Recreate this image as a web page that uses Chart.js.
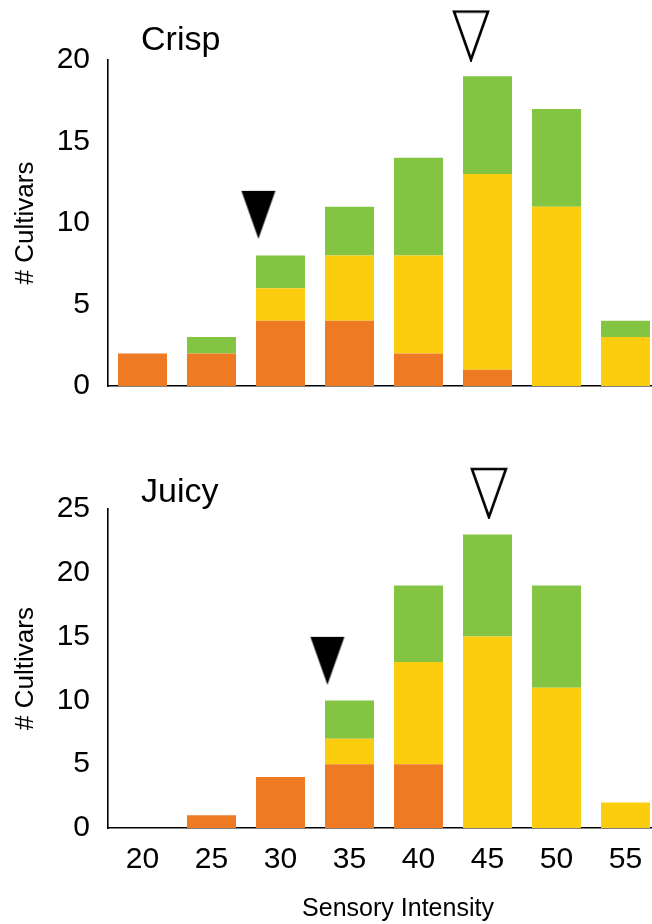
<!DOCTYPE html>
<html>
<head>
<meta charset="utf-8">
<script src="https://cdn.jsdelivr.net/npm/chart.js@4.4.1/dist/chart.umd.min.js"></script>
<style>
  html, body { margin: 0; padding: 0; background: #fff; overflow: hidden; width: 652px; height: 924px; }
  #wrap { position: relative; width: 670px; height: 924px; }
  #crisp { position: absolute; left: 0; top: 0; }
  #juicy { position: absolute; left: 0; top: 440px; }
</style>
</head>
<body>
<div id="wrap">
  <canvas id="crisp" width="670" height="440"></canvas>
  <canvas id="juicy" width="670" height="484"></canvas>
</div>
<script>
// Datos
const intensity = ['20', '25', '30', '35', '40', '45', '50', '55'];

const crispOrange = [2, 2, 4, 4, 2, 1, 0, 0];
const crispYellow = [0, 0, 2, 4, 6, 12, 11, 3];
const crispGreen  = [0, 1, 2, 3, 6, 6, 6, 1];

const juicyOrange = [0, 1, 4, 5, 5, 0, 0, 0];
const juicyYellow = [0, 0, 0, 2, 8, 15, 11, 2];
const juicyGreen  = [0, 0, 0, 3, 6, 8, 8, 0];

// triangulos (relleno, vacio)
const crispMarkX = [28.4, 43.8];
const crispMarkY = [10.5, 21.5];
const juicyMarkX = [33.4, 45.1];
const juicyMarkY = [13.1, 26.25];

const ORANGE = '#EE7B24';
const YELLOW = '#FCCC0E';
const GREEN = '#84C443';

Chart.defaults.font.family = '"Liberation Sans", Arial, sans-serif';
Chart.defaults.color = '#000';

// Imagen de triangulo para pointStyle
function makeTriangle(filled) {
  const c = document.createElement('canvas');
  c.width = 38; c.height = 52;
  const g = c.getContext('2d');
  g.beginPath();
  g.moveTo(2, 2);
  g.lineTo(36, 2);
  g.lineTo(19, 50);
  g.closePath();
  if (filled) {
    g.fillStyle = '#000';
    g.fill();
  } else {
    g.fillStyle = '#fff';
    g.fill();
    g.lineWidth = 2.6;
    g.strokeStyle = '#000';
    g.stroke();
  }
  return c;
}
const triFilled = makeTriangle(true);
const triOpen = makeTriangle(false);

// Textos sueltos (etiqueta del panel, titulo del eje x)
const panelText = {
  id: 'panelText',
  afterDraw(chart, args, opts) {
    const ctx = chart.ctx;
    ctx.save();
    ctx.fillStyle = '#000';
    (opts.items || []).forEach(it => {
      ctx.font = it.size + 'px "Liberation Sans", Arial, sans-serif';
      ctx.textAlign = it.align || 'left';
      ctx.textBaseline = 'alphabetic';
      ctx.fillText(it.text, it.x, it.y);
    });
    ctx.restore();
  }
};

function makeChart(id, orange, yellow, green, markX, markY, yMax, cfg) {
  const ctx = document.getElementById(id).getContext('2d');
  const barOpts = { type: 'bar', grouped: false, categoryPercentage: 1, barPercentage: 0.71, borderWidth: 0, order: 2 };
  return new Chart(ctx, {
    type: 'bar',
    data: {
      labels: intensity,
      datasets: [
        { ...barOpts, data: orange, backgroundColor: ORANGE },
        { ...barOpts, data: yellow, backgroundColor: YELLOW },
        { ...barOpts, data: green, backgroundColor: GREEN },
        {
          type: 'scatter',
          data: markX.map((x, i) => ({ x: x, y: markY[i] })),
          xAxisID: 'xm',
          yAxisID: 'ym',
          pointStyle: [triFilled, triOpen],
          pointRadius: 40,
          pointHoverRadius: 40,
          showLine: false,
          clip: false,
          order: 1
        }
      ]
    },
    options: {
      responsive: false,
      animation: false,
      layout: { autoPadding: false, padding: { top: cfg.padTop, right: 10, left: 0, bottom: 0 } },
      scales: {
        x: {
          stacked: true,
          grid: { display: false, drawTicks: false },
          border: { display: true, color: '#000', width: 1.6 },
          ticks: { display: cfg.showX, font: { size: 30 }, padding: 14, maxRotation: 0 },
          afterFit: s => { s.height = cfg.xHeight; }
        },
        y: {
          stacked: true,
          min: 0,
          max: yMax,
          grid: { display: false, drawTicks: false },
          border: { display: true, color: '#000', width: 1.6 },
          ticks: { stepSize: 5, font: { size: 30 }, padding: 18 },
          title: { display: true, text: '# Cultivars', font: { size: 26 }, padding: { top: 10, bottom: 0 } },
          afterFit: s => { s.width = 108; }
        },
        xm: { type: 'linear', display: false, offset: false, min: 17.5, max: 57.5 },
        ym: { type: 'linear', display: false, offset: false, min: 0, max: yMax }
      },
      plugins: {
        legend: { display: false },
        tooltip: { enabled: false },
        panelText: { items: cfg.texts }
      }
    },
    plugins: [panelText]
  });
}

const crispChart = makeChart('crisp', crispOrange, crispYellow, crispGreen, crispMarkX, crispMarkY, 20, {
  padTop: 60, xHeight: 54, showX: false,
  texts: [{ text: 'Crisp', x: 141, y: 50, size: 34 }]
});

const juicyChart = makeChart('juicy', juicyOrange, juicyYellow, juicyGreen, juicyMarkX, juicyMarkY, 25, {
  padTop: 69, xHeight: 96, showX: true,
  texts: [
    { text: 'Juicy', x: 141, y: 62, size: 34 },
    { text: 'Sensory Intensity', x: 398, y: 476, size: 25, align: 'center' }
  ]
});
</script>
</body>
</html>
